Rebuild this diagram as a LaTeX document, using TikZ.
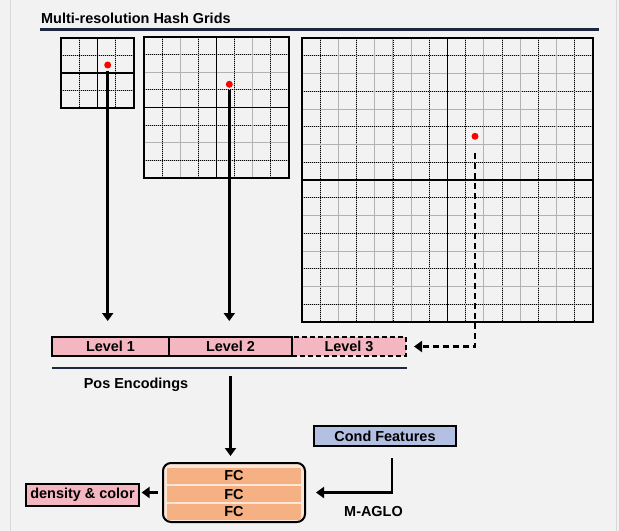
\documentclass[tikz,border=0pt]{standalone}
\usepackage{fontspec}
\setmainfont{Liberation Sans}
\usepackage{tikz}
\usetikzlibrary{arrows.meta,positioning}

\definecolor{bgcol}{HTML}{F2F2F2}
\definecolor{rulecol}{HTML}{1E2640}
\definecolor{lvlpink}{HTML}{F4B6C0}
\definecolor{condblue}{HTML}{B4C0E2}
\definecolor{fcorange}{HTML}{F5B183}
\definecolor{fcpeach}{HTML}{FCE6D8}

\tikzset{
  gridfine/.style = {gray!60, line width=0.9bp},
  griddot/.style  = {black, line width=0.8bp, dash pattern=on 0.8bp off 1.2bp},
  gridmid/.style  = {black, line width=1.7bp},
  gridout/.style  = {black, line width=2.5bp},
  arr/.style      = {line width=2.5bp, -{Triangle[length=8bp,width=11bp]}},
}

% one hash grid: x0, y0, width, height, cells per side
\newcommand{\hashgrid}[5]{%
  \pgfmathsetmacro{\gridstepx}{#3/#5}
  \pgfmathsetmacro{\gridstepy}{#4/#5}
  \pgfmathtruncatemacro{\gridlast}{#5-1}
  \foreach \k in {1,...,\gridlast} {
    \draw[gridfine] ({#1+\k*\gridstepx},#2) -- ++(0,#4);
    \draw[gridfine] (#1,{#2+\k*\gridstepy}) -- ++(#3,0);
    \ifodd\k
      \draw[griddot] ({#1+\k*\gridstepx},#2) -- ++(0,#4);
      \draw[griddot] (#1,{#2+\k*\gridstepy}) -- ++(#3,0);
    \fi
  }
  \draw[gridmid] ({#1+#3/2},#2) -- ++(0,#4);
  \draw[gridmid] (#1,{#2+#4/2}) -- ++(#3,0);
  \draw[gridout] (#1,#2) rectangle ++(#3,#4);
}

\begin{document}
\begin{tikzpicture}[x=1bp, y=-1bp, font=\fontsize{14.5}{17}\selectfont\bfseries,
    lvl/.style   = {draw, fill=lvlpink, line width=2bp, inner sep=0pt, minimum height=19bp},
    dot/.style   = {circle, fill=red, inner sep=0pt, minimum size=7bp},
    fcbar/.style = {fill=fcorange, inner sep=0pt, minimum width=134bp, minimum height=15.5bp}]
  \fill[bgcol] (0,0) rectangle (619,531);
  \useasboundingbox (0,0) rectangle (619,531);
  \draw[black!15, line width=0.8bp] (10,0) -- (10,531);
  \draw[black!15, line width=0.8bp] (616,0) -- (616,531);

  % heading
  \node[anchor=base west, inner sep=0pt] at (41,24) (title) {Multi-resolution Hash Grids};
  \draw[rulecol, line width=2.5bp] (40,29.5) -- (599,29.5);

  % the three resolutions
  \hashgrid{61}{38}{73}{70}{4}
  \hashgrid{144}{37}{145}{141}{8}
  \hashgrid{302}{38}{291}{284}{16}

  \node[dot] at (107.7,65)  (p1) {};
  \node[dot] at (229.3,84.3) (p2) {};
  \node[dot] at (475,136.3) (p3) {};

  % encoding levels
  \node[lvl, minimum width=114bp, dash pattern=on 5bp off 3bp] at (349,346.5) (lv3) {Level 3};
  \node[lvl, minimum width=117bp] at (110.5,346.5) (lv1) {Level 1};
  \node[lvl, minimum width=123bp] at (230.5,346.5) (lv2) {Level 2};
  \draw[rulecol, line width=2.5bp] (52,368) -- (406.5,368);
  \node[anchor=base, inner sep=0pt] at (136,388) (enc) {Pos Encodings};

  \draw[arr, shorten <=2bp, shorten >=15bp] (p1) -- (p1 |- lv1.north);
  \draw[arr, shorten <=2bp, shorten >=15bp] (p2) -- (p2 |- lv2.north);
  \draw[arr, dash pattern=on 6bp off 4bp, shorten <=13bp, shorten >=7bp] (p3) |- (lv3.east);

  % decoder
  \node[draw, fill=fcpeach, line width=2bp, rounded corners=8bp,
        minimum width=142bp, minimum height=59bp] at (234,492.5) (mlp) {};
  \node[fcbar] at (234,476)   (fc1) {FC};
  \node[fcbar] at (234,494.2) (fc2) {FC};
  \node[fcbar] at (234,511.8) (fc3) {FC};

  \node[draw, fill=lvlpink, line width=2.2bp, inner sep=0pt,
        minimum width=113bp, minimum height=22bp] at (82.5,495) (dens) {density \& color};
  \node[draw, fill=condblue, line width=2.2bp, inner sep=0pt,
        minimum width=142bp, minimum height=20bp] at (385,436) (cond) {Cond Features};
  \node[anchor=base, inner sep=0pt] at (373.5,516) (aglo) {M-AGLO};

  \draw[arr, shorten <=19bp, shorten >=6bp] (lv2.south) -- (lv2.south |- mlp.north);
  \draw[arr, shorten <=4bp, shorten >=1.5bp] (mlp.west) -- (mlp.west -| dens.east);
  \draw[arr, shorten <=11bp, shorten >=10bp] ([xshift=7bp]cond.south) |- (mlp.east);
\end{tikzpicture}
\end{document}
